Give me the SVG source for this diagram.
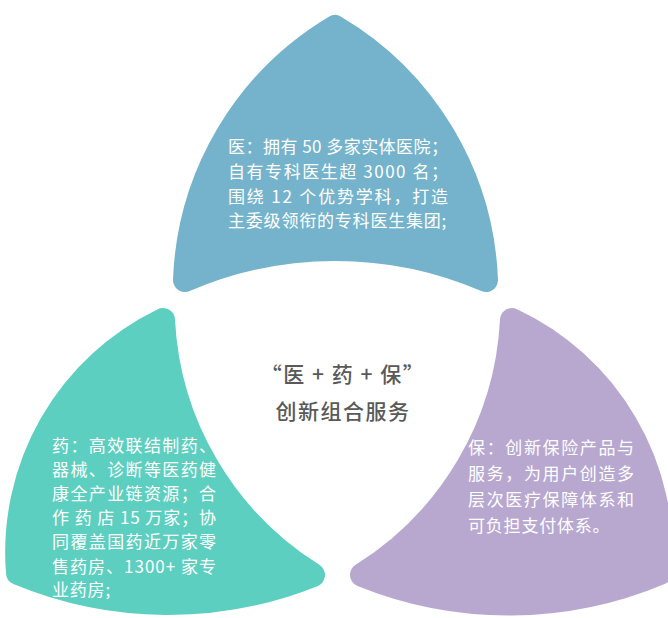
<svg xmlns="http://www.w3.org/2000/svg" width="668" height="618" viewBox="0 0 668 618">
<style>
.p{stroke-width:24;stroke-linejoin:round}
.blue{fill:#74b3cb;stroke:#74b3cb}
.green{fill:#5dcfc0;stroke:#5dcfc0}
.purple{fill:#b8a8d0;stroke:#b8a8d0}
.t{font-family:"Noto Sans CJK SC","Noto Sans",sans-serif;font-size:17px;fill:#ffffff}
.n{letter-spacing:0.8px}
.c{font-family:"Noto Sans CJK SC","Noto Sans",sans-serif;font-size:21px;font-weight:500;fill:#595959;text-anchor:middle;letter-spacing:1.5px}
</style>
<rect width="668" height="618" fill="#ffffff"/>
<g id="node-yi">
<path class="p blue" d="M335 27 A308 308 0 0 0 185 280 A380 380 0 0 1 486 280 A308 308 0 0 0 335 27 Z"/>
<text class="t" x="228" y="153" textLength="220" lengthAdjust="spacing">医：拥有 50 多家实体医院；</text>
<text class="t" x="228" y="178" textLength="220" lengthAdjust="spacing">自有专科医生超 3000 名；</text>
<text class="t" x="228" y="203" textLength="220" lengthAdjust="spacing">围绕 12 个优势学科，打造</text>
<text class="t n" x="228" y="227">主委级领衔的专科医生集团;</text>
</g>
<g id="node-yao">
<path class="p green" d="M163 320 A258 258 0 0 0 18 573 A390 390 0 0 0 313 575 A320 320 0 0 1 163 320 Z"/>
<text class="t" x="52" y="451.5" textLength="164" lengthAdjust="spacing">药：高效联结制药、</text>
<text class="t" x="52" y="475.7" textLength="164" lengthAdjust="spacing">器械、诊断等医药健</text>
<text class="t" x="52" y="499.9" textLength="164" lengthAdjust="spacing">康全产业链资源；合</text>
<text class="t" x="52" y="524.1" textLength="164" lengthAdjust="spacing">作 药 店 15 万家；协</text>
<text class="t" x="52" y="548.3" textLength="164" lengthAdjust="spacing">同覆盖国药近万家零</text>
<text class="t" x="52" y="572.5" textLength="164" lengthAdjust="spacing">售药房、1300+ 家专</text>
<text class="t n" x="52" y="596">业药房;</text>
</g>
<g id="node-bao">
<path class="p purple" d="M512 320 A320 320 0 0 1 362 575 A390 390 0 0 0 660 573 A258 258 0 0 0 512 320 Z"/>
<text class="t" x="468" y="453.5" textLength="166" lengthAdjust="spacing">保：创新保险产品与</text>
<text class="t" x="468" y="479.5" textLength="166" lengthAdjust="spacing">服务，为用户创造多</text>
<text class="t" x="468" y="505.5" textLength="166" lengthAdjust="spacing">层次医疗保障体系和</text>
<text class="t n" x="468" y="531.5">可负担支付体系。</text>
</g>
<g id="center">
<text class="c" x="343" y="382">“医 + 药 + 保”</text>
<text class="c" x="343" y="419">创新组合服务</text>
</g>
</svg>
